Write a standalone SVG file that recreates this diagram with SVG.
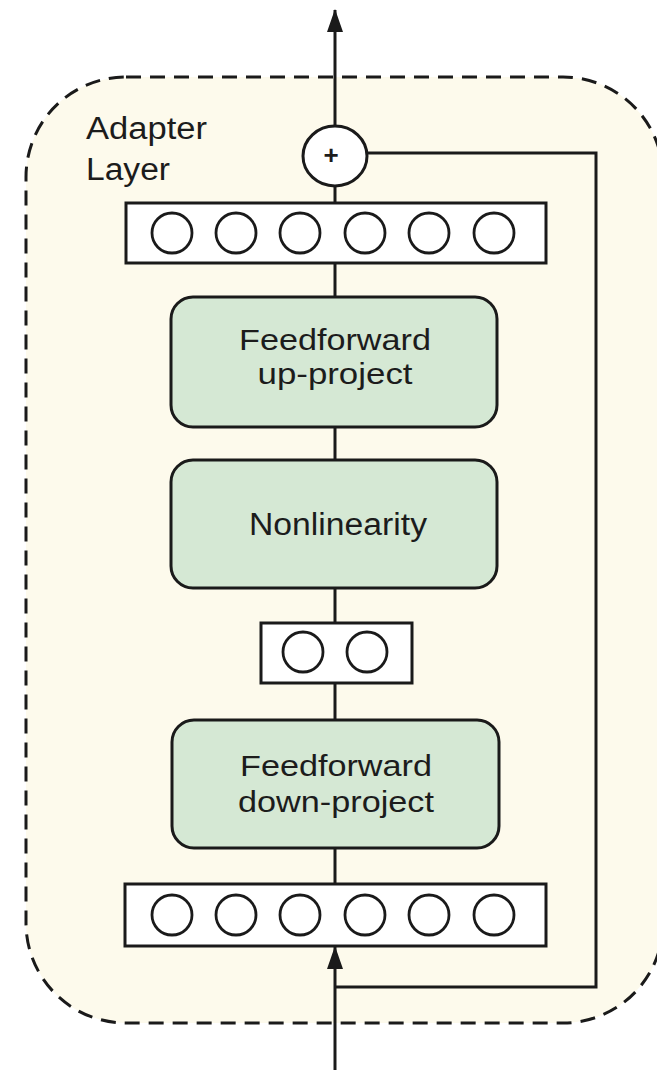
<svg xmlns="http://www.w3.org/2000/svg" width="657" height="1070" viewBox="0 0 657 1070">
  <style>
    .lbl { font-family: "Liberation Sans", Arial, Helvetica, sans-serif; fill: #1c1c1c; }
    .green { fill: #d5e8d4; stroke: #1a1a1a; stroke-width: 3; }
    .vec { fill: #ffffff; stroke: #1a1a1a; stroke-width: 3; }
    .unit { fill: #ffffff; stroke: #1a1a1a; stroke-width: 2.8; }
    .wire { fill: none; stroke: #1a1a1a; stroke-width: 3; }
  </style>
  <defs>
    <marker id="arrow" markerUnits="userSpaceOnUse" markerWidth="24" markerHeight="18" viewBox="0 0 24 18" refX="22" refY="9" orient="auto">
      <path d="M0,1 L23,9 L0,17 z" fill="#1a1a1a"/>
    </marker>
  </defs>
  <rect width="657" height="1070" fill="#ffffff"/>

  <g id="adapter-layer">
    <rect x="26" y="77" width="637" height="946" rx="100" ry="100" fill="#fdfaec" stroke="#1a1a1a" stroke-width="3" stroke-dasharray="15 9"/>
    <text class="lbl" x="86" y="139" font-size="31" textLength="121" lengthAdjust="spacingAndGlyphs">Adapter</text>
    <text class="lbl" x="86" y="180" font-size="31" textLength="84" lengthAdjust="spacingAndGlyphs">Layer</text>
  </g>

  <g id="connectors">
    <line class="wire" x1="335" y1="1070" x2="335" y2="947" marker-end="url(#arrow)"/>
    <line class="wire" x1="335" y1="884" x2="335" y2="848"/>
    <line class="wire" x1="335" y1="720" x2="335" y2="683"/>
    <line class="wire" x1="335" y1="623" x2="335" y2="588"/>
    <line class="wire" x1="335" y1="460" x2="335" y2="427"/>
    <line class="wire" x1="335" y1="297" x2="335" y2="263"/>
    <line class="wire" x1="335" y1="203" x2="335" y2="186"/>
    <line class="wire" x1="335" y1="125" x2="335" y2="10" marker-end="url(#arrow)"/>
    <polyline class="wire" points="335,987 596,987 596,153 367,153"/>
  </g>

  <g id="output-vector">
    <rect class="vec" x="126" y="203" width="420" height="60"/>
    <circle class="unit" cx="172" cy="233" r="20"/>
    <circle class="unit" cx="236" cy="233" r="20"/>
    <circle class="unit" cx="300" cy="233" r="20"/>
    <circle class="unit" cx="365" cy="233" r="20"/>
    <circle class="unit" cx="429" cy="233" r="20"/>
    <circle class="unit" cx="494" cy="233" r="20"/>
  </g>

  <g id="plus">
    <ellipse cx="335" cy="156" rx="32" ry="30" fill="#ffffff" stroke="#1a1a1a" stroke-width="3"/>
    <text class="lbl" x="331" y="164" font-size="26" font-weight="bold" text-anchor="middle">+</text>
  </g>

  <g id="up-project">
    <rect class="green" x="171" y="297" width="326" height="130" rx="22" ry="22"/>
    <text class="lbl" x="335" y="350" font-size="30" text-anchor="middle" textLength="192" lengthAdjust="spacingAndGlyphs">Feedforward</text>
    <text class="lbl" x="335" y="384" font-size="30" text-anchor="middle" textLength="155" lengthAdjust="spacingAndGlyphs">up-project</text>
  </g>

  <g id="nonlinearity">
    <rect class="green" x="171" y="460" width="326" height="128" rx="22" ry="22"/>
    <text class="lbl" x="338" y="535" font-size="31" text-anchor="middle" textLength="178" lengthAdjust="spacingAndGlyphs">Nonlinearity</text>
  </g>

  <g id="bottleneck-vector">
    <rect class="vec" x="261" y="623" width="151" height="60"/>
    <circle class="unit" cx="303" cy="652" r="20"/>
    <circle class="unit" cx="367" cy="652" r="20"/>
  </g>

  <g id="down-project">
    <rect class="green" x="172" y="720" width="327" height="128" rx="22" ry="22"/>
    <text class="lbl" x="336" y="776" font-size="30" text-anchor="middle" textLength="192" lengthAdjust="spacingAndGlyphs">Feedforward</text>
    <text class="lbl" x="336" y="812" font-size="30" text-anchor="middle" textLength="196" lengthAdjust="spacingAndGlyphs">down-project</text>
  </g>

  <g id="input-vector">
    <rect class="vec" x="125" y="884" width="421" height="62"/>
    <circle class="unit" cx="172" cy="915" r="20"/>
    <circle class="unit" cx="236" cy="915" r="20"/>
    <circle class="unit" cx="300" cy="915" r="20"/>
    <circle class="unit" cx="365" cy="915" r="20"/>
    <circle class="unit" cx="429" cy="915" r="20"/>
    <circle class="unit" cx="494" cy="915" r="20"/>
  </g>
</svg>
